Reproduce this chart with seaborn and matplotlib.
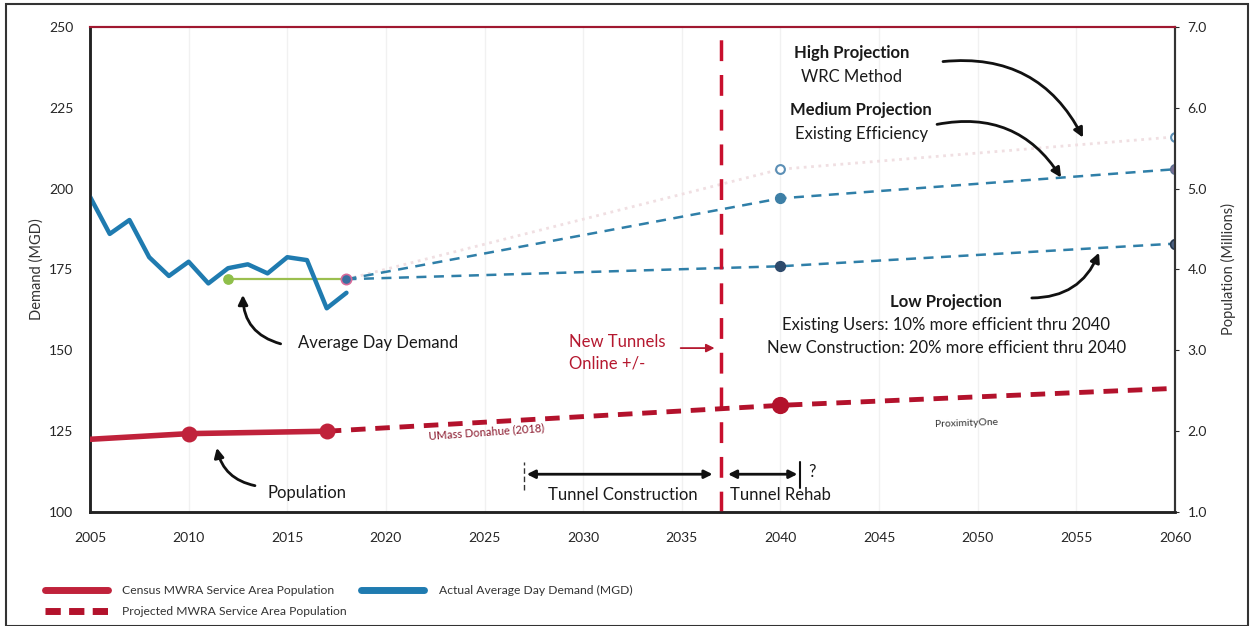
import numpy as np
import pandas as pd
import matplotlib.pyplot as plt
import seaborn as sns
from matplotlib.lines import Line2D
from matplotlib.patches import Rectangle

# data
years_actual = list(range(2005, 2019))
demand_actual = [197.5, 186.0, 190.3, 178.8, 173.0, 177.4, 170.7, 175.4,
                 176.6, 173.8, 178.8, 177.9, 163.0, 167.8]
avg_years = [2012, 2018]
avg_demand = [172.0, 172.0]

proj_years = [2018, 2040, 2060]
low_proj = [172.0, 176.0, 183.0]
med_proj = [172.0, 197.0, 206.0]
high_proj = [172.0, 206.0, 216.0]

census_years = [2005, 2010, 2017]
census_pop = [1.90, 1.97, 2.00]
projpop_years = [2017, 2040, 2060]
projpop = [2.00, 2.32, 2.53]

x_ticks = list(range(2005, 2061, 5))
left_ticks = [100, 125, 150, 175, 200, 225, 250]
right_ticks = [1.0, 2.0, 3.0, 4.0, 5.0, 6.0, 7.0]
tunnel_year = 2037

sns.set_style("white")
plt.rcParams['font.family'] = ['Lato', 'DejaVu Sans']

RED = '#c0223b'
DRED = '#b3122c'
BLUE = '#1f7bb0'
PBLUE = '#2f7fa8'

fig = plt.figure(figsize=(12.5, 6.26), dpi=100)
ax = fig.add_axes([0.072, 0.182, 0.868, 0.775])
ax2 = ax.twinx()

# faint grid
for x in x_ticks:
    ax.axvline(x, color='#f1f1f1', lw=1, zorder=0)

# demand
demand_df = pd.DataFrame({'year': years_actual, 'mgd': demand_actual})
sns.lineplot(data=demand_df, x='year', y='mgd', ax=ax, color=BLUE, lw=3.2, zorder=4)
sns.lineplot(x=avg_years, y=avg_demand, ax=ax, color='#9bbf4f', lw=1.6, zorder=3)
ax.scatter(avg_years[0], avg_demand[0], s=45, color='#8fbf4a', zorder=5)

# projections
sns.lineplot(x=proj_years, y=high_proj, ax=ax, color='#f0dfe2', lw=2, linestyle=':', zorder=2)
sns.lineplot(x=proj_years, y=med_proj, ax=ax, color=PBLUE, lw=1.8, linestyle=(0, (4, 3)), zorder=3)
sns.lineplot(x=proj_years, y=low_proj, ax=ax, color=PBLUE, lw=1.8, linestyle=(0, (4, 3)), zorder=3)
ax.scatter(proj_years[0], low_proj[0], s=55, color='#3a6fa0', edgecolor='#d86a9a', lw=1.2, zorder=6)
ax.scatter(proj_years[1:], high_proj[1:], s=40, facecolor='white', edgecolor='#5b8fb5', lw=1.5, zorder=6)
ax.scatter(proj_years[1], med_proj[1], s=50, color='#3d7fa6', zorder=6)
ax.scatter(proj_years[2], med_proj[2], s=50, color='#7a6f95', edgecolor='#5a6f90', zorder=6)
ax.scatter(proj_years[1], low_proj[1], s=50, color='#2e4a6b', zorder=6)
ax.scatter(proj_years[2], low_proj[2], s=50, color='#4a5f80', edgecolor='#26384f', lw=1.2, zorder=6)

# population
sns.lineplot(x=census_years, y=census_pop, ax=ax2, color=RED, lw=4, zorder=4)
ax2.scatter(census_years[1:], census_pop[1:], s=110, color=RED, zorder=5)
sns.lineplot(x=projpop_years, y=projpop, ax=ax2, color=DRED, lw=3.5,
             linestyle=(0, (3, 2)), zorder=4)
ax2.scatter(projpop_years[1], projpop[1], s=130, color=DRED, zorder=5)

# tunnel line
ax.axvline(tunnel_year, color='#c8102e', lw=2.5, linestyle=(0, (6, 4)), zorder=3)

ax.set_xlim(2005, 2060)
ax.set_ylim(100, 250)
ax2.set_ylim(1, 7)
ax.set_xticks(x_ticks)
ax.set_yticks(left_ticks)
ax2.set_yticks(right_ticks)
ax2.set_yticklabels([f'{v:.1f}' for v in right_ticks])
ax.tick_params(axis='x', labelsize=10, length=0, pad=14)
ax.tick_params(axis='y', labelsize=10, length=0, pad=12)
ax2.tick_params(axis='y', labelsize=10, length=3, pad=6)
ax.set_xlabel('')
ax.set_ylabel('Demand (MGD)', fontsize=10.5, color='#333333', labelpad=4)
ax2.set_ylabel('Population (Millions)', fontsize=10.5, color='#333333', labelpad=10)

for a in (ax, ax2):
    a.spines['top'].set_color('#a01830')
    a.spines['top'].set_linewidth(1.5)
    a.spines['left'].set_color('#222222')
    a.spines['left'].set_linewidth(1.8)
    a.spines['bottom'].set_color('#222222')
    a.spines['bottom'].set_linewidth(1.8)
    a.spines['right'].set_color('#333333')
    a.spines['right'].set_linewidth(1.5)

# annotations
txt = dict(fontsize=12, color='#1a1a1a', ha='center', va='center')
ax.text(2043.6, 242, 'High Projection', fontweight='bold', **txt)
ax.text(2043.6, 234.5, 'WRC Method', **txt)
ax.text(2044.1, 224.3, 'Medium Projection', fontweight='bold', **txt)
ax.text(2044.1, 216.9, 'Existing Efficiency', **txt)
ax.text(2048.4, 165, 'Low Projection', fontweight='bold', **txt)
ax.text(2048.4, 157.8, 'Existing Users: 10% more efficient thru 2040', **txt)
ax.text(2048.4, 150.7, 'New Construction: 20% more efficient thru 2040', **txt)
ax.text(2019.6, 152.3, 'Average Day Demand', **txt)
ax.text(2016.0, 105.9, 'Population', **txt)
ax.text(2032.0, 105.2, 'Tunnel Construction', **txt)
ax.text(2040.0, 105.2, 'Tunnel Rehab', **txt)
ax.text(2041.6, 112.4, '?', **txt)
ax.text(2029.3, 149.2, 'New Tunnels\nOnline +/-', fontsize=12, color='#b5182f',
        ha='left', va='center', linespacing=1.45)
ax.text(2025.1, 124.7, 'UMass Donahue (2018)', fontsize=8, color='#8b1a2e',
        ha='center', va='center', rotation=4)
ax.text(2049.4, 127.5, 'ProximityOne', fontsize=7.5, color='#333333',
        ha='center', va='center', rotation=2)

arrow = dict(arrowstyle='-|>', color='#111111', lw=2, mutation_scale=14)
ax.annotate('', xy=(2055.4, 215), xytext=(2048.1, 239.2),
            arrowprops=dict(connectionstyle='arc3,rad=-0.35', **arrow))
ax.annotate('', xy=(2054.3, 202.7), xytext=(2047.8, 219.7),
            arrowprops=dict(connectionstyle='arc3,rad=-0.35', **arrow))
ax.annotate('', xy=(2056.2, 181), xytext=(2052.6, 166.2),
            arrowprops=dict(connectionstyle='arc3,rad=0.35', **arrow))
ax.annotate('', xy=(2012.75, 168), xytext=(2014.8, 151.8),
            arrowprops=dict(connectionstyle='arc3,rad=-0.4', **arrow))
ax.annotate('', xy=(2011.4, 120.7), xytext=(2013.5, 108),
            arrowprops=dict(connectionstyle='arc3,rad=-0.35', **arrow))

# tunnel periods
span = dict(arrowstyle='<|-|>', color='#111111', lw=2, mutation_scale=12)
ax.annotate('', xy=(2036.7, 111.7), xytext=(2027.0, 111.7), arrowprops=span)
ax.annotate('', xy=(2041.0, 111.7), xytext=(2037.2, 111.7), arrowprops=span)
ax.plot([2027, 2027], [106.8, 115.5], color='#333333', lw=1, linestyle=(0, (4, 2)))
ax.plot([2041, 2041], [107.5, 115.5], color='#111111', lw=1.5)
ax.annotate('', xy=(2036.8, 150.7), xytext=(2034.8, 150.7),
            arrowprops=dict(arrowstyle='-|>', color='#b5182f', lw=1.3, mutation_scale=12))

# legend
handles = [
    Line2D([], [], color=RED, lw=5),
    Line2D([], [], color=DRED, lw=5, linestyle=(0, (2.2, 1.2))),
    Line2D([], [], color=BLUE, lw=5),
]
labels = ['Census MWRA Service Area Population',
          'Projected MWRA Service Area Population',
          'Actual Average Day Demand (MGD)']
fig.legend(handles, labels, loc='upper left', bbox_to_anchor=(0.036, 0.066),
           ncol=2, frameon=False, fontsize=8.7, handlelength=5.2,
           columnspacing=1.2, labelspacing=0.85, handletextpad=1.2,
           borderaxespad=0, borderpad=0, labelcolor='#333333')

fig.patches.append(Rectangle((0.005, 0.0), 0.993, 0.993, transform=fig.transFigure,
                             fill=False, edgecolor='#333333', lw=1.5))

fig.savefig('out.png', dpi=100)
